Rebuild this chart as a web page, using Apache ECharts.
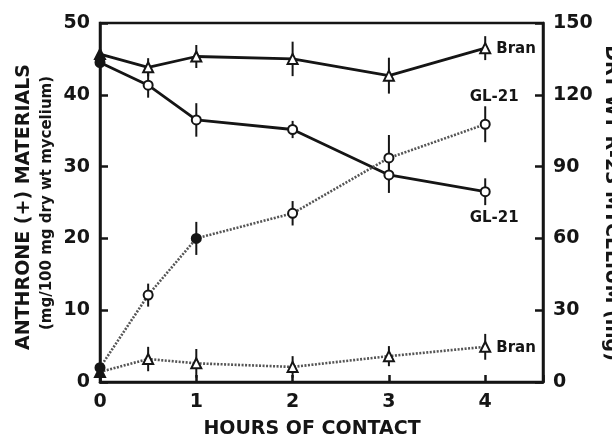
<!DOCTYPE html>
<html><head><meta charset="utf-8">
<script src="https://cdn.jsdelivr.net/npm/echarts@6/dist/echarts.min.js"></script>
<style>html,body{margin:0;padding:0;background:#fff}#c{width:612px;height:438px}</style>
</head><body><div id="c"></div>
<script>
const hours = [0, 0.5, 1, 2, 3, 4];
const xTicks = ['0', '1', '2', '3', '4'];
// dry weight (mg), right axis, solid lines
const dryBran = [137, 131.5, 136, 135, 128, 139.5];
const dryBranErr = [0, 3.8, 4.8, 7.2, 7.5, 5];
const dryGL21 = [133.5, 124, 109.5, 105.5, 86.5, 79.5];
const dryGL21Err = [0, 5.2, 7, 3.6, 7.5, 5.6];
// anthrone (+) materials, left axis, dotted lines
const anthGL21 = [2.0, 12.1, 20.0, 23.5, 31.2, 35.9];
const anthGL21Err = [0, 1.6, 2.3, 1.7, 3.2, 2.5];
const anthBran = [1.4, 3.2, 2.6, 2.1, 3.6, 4.9];
const anthBranErr = [0, 1.7, 2.0, 1.5, 1.4, 1.8];
const leftTicks = [0, 10, 20, 30, 40, 50];
const rightTicks = [0, 30, 60, 90, 120, 150];

const FONT = '"DejaVu Sans", Verdana, sans-serif';
const BLACK = '#151515';

function pts(vals, filledIdx, labelText, labelOffset) {
  return hours.map((h, i) => {
    const d = { value: [h, vals[i]] };
    if (filledIdx.includes(i)) d.itemStyle = { color: BLACK };
    if (i === hours.length - 1 && labelText) {
      d.label = { show: true, formatter: labelText, position: labelOffset.pos, offset: labelOffset.off,
        fontFamily: FONT, fontWeight: 'bold', fontSize: 15, color: BLACK };
    }
    return d;
  });
}
function errData(vals, errs) {
  return hours.map((h, i) => [h, vals[i] - errs[i], vals[i] + errs[i]]).filter((d, i) => errs[i] > 0);
}
function errSeries(vals, errs, yIdx) {
  return {
    type: 'custom', yAxisIndex: yIdx, z: 1, silent: true,
    data: errData(vals, errs),
    renderItem(params, api) {
      const p1 = api.coord([api.value(0), api.value(1)]);
      const p2 = api.coord([api.value(0), api.value(2)]);
      return { type: 'line', shape: { x1: p1[0], y1: p1[1], x2: p2[0], y2: p2[1] },
        style: { stroke: BLACK, lineWidth: 2 } };
    }
  };
}
const lineBase = (yIdx, solid, symbol) => ({
  type: 'line', yAxisIndex: yIdx, symbol: symbol, symbolSize: symbol === 'triangle' ? 10 : 9,
  z: 3,
  lineStyle: solid ? { color: BLACK, width: 2.8 } : { color: '#555', width: 2.6, type: [2, 1.5] },
  itemStyle: { color: '#fff', borderColor: BLACK, borderWidth: 2 },
  label: { show: false }
});

const chart = echarts.init(document.getElementById('c'), null, { renderer: 'canvas' });
chart.setOption({
  animation: false,
  grid: { left: 100, right: 69, top: 23, bottom: 56, show: true, borderColor: BLACK, borderWidth: 2.5 },
  xAxis: {
    type: 'value', min: 0, max: 4.6, interval: 1,
    axisLine: { lineStyle: { color: BLACK, width: 2.5 } },
    axisTick: { inside: true, length: 7, lineStyle: { color: BLACK, width: 2.5 } },
    splitLine: { show: false },
    axisLabel: { margin: 11, fontFamily: FONT, fontWeight: 'bold', fontSize: 19, color: BLACK,
      formatter: v => (Number.isInteger(v) && v <= 4) ? xTicks[v] : '' }
  },
  yAxis: [
    { type: 'value', min: 0, max: 50, interval: 10, position: 'left',
      axisLine: { show: true, lineStyle: { color: BLACK, width: 2.5 } },
      axisTick: { show: true, inside: true, length: 8, lineStyle: { color: BLACK, width: 2.5 } },
      splitLine: { show: false },
      axisLabel: { margin: 10, fontFamily: FONT, fontWeight: 'bold', fontSize: 19, color: BLACK,
        formatter: v => leftTicks.includes(v) ? String(v) : '' } },
    { type: 'value', min: 0, max: 150, interval: 30, position: 'right',
      axisLine: { show: true, lineStyle: { color: BLACK, width: 2.5 } },
      axisTick: { show: true, inside: true, length: 8, lineStyle: { color: BLACK, width: 2.5 } },
      splitLine: { show: false },
      axisLabel: { margin: 10, fontFamily: FONT, fontWeight: 'bold', fontSize: 19, color: BLACK,
        formatter: v => rightTicks.includes(v) ? String(v) : '' } }
  ],
  graphic: [
    { type: 'text', x: 24, y: 207, rotation: Math.PI / 2, style: { text: 'ANTHRONE (+) MATERIALS',
      font: 'bold 19px ' + FONT, fill: BLACK, textAlign: 'center', textVerticalAlign: 'middle' } },
    { type: 'text', x: 47, y: 203, rotation: Math.PI / 2, style: { text: '(mg/100 mg dry wt mycelium)',
      font: 'bold 15px ' + FONT, fill: BLACK, textAlign: 'center', textVerticalAlign: 'middle' } },
    { type: 'text', x: 611, y: 203, rotation: -Math.PI / 2, style: { text: 'DRY WT R-23 MYCELIUM (mg)',
      font: 'bold 19px ' + FONT, fill: BLACK, textAlign: 'center', textVerticalAlign: 'middle' } },
    { type: 'text', x: 312, y: 429, style: { text: 'HOURS OF CONTACT',
      font: 'bold 19px ' + FONT, fill: BLACK, textAlign: 'center', textVerticalAlign: 'middle' } }
  ],
  series: [
    errSeries(dryBran, dryBranErr, 1),
    errSeries(dryGL21, dryGL21Err, 1),
    errSeries(anthGL21, anthGL21Err, 0),
    errSeries(anthBran, anthBranErr, 0),
    Object.assign(lineBase(1, true, 'triangle'), { data: pts(dryBran, [0], 'Bran', { pos: 'right', off: [0, 1] }) }),
    Object.assign(lineBase(1, true, 'circle'), { data: pts(dryGL21, [0], 'GL-21', { pos: 'bottom', off: [9, 8] }) }),
    Object.assign(lineBase(0, false, 'circle'), { data: pts(anthGL21, [0, 2], 'GL-21', { pos: 'top', off: [9, -9] }) }),
    Object.assign(lineBase(0, false, 'triangle'), { data: pts(anthBran, [0], 'Bran', { pos: 'right', off: [0, 1] }) })
  ]
});
</script></body></html>
